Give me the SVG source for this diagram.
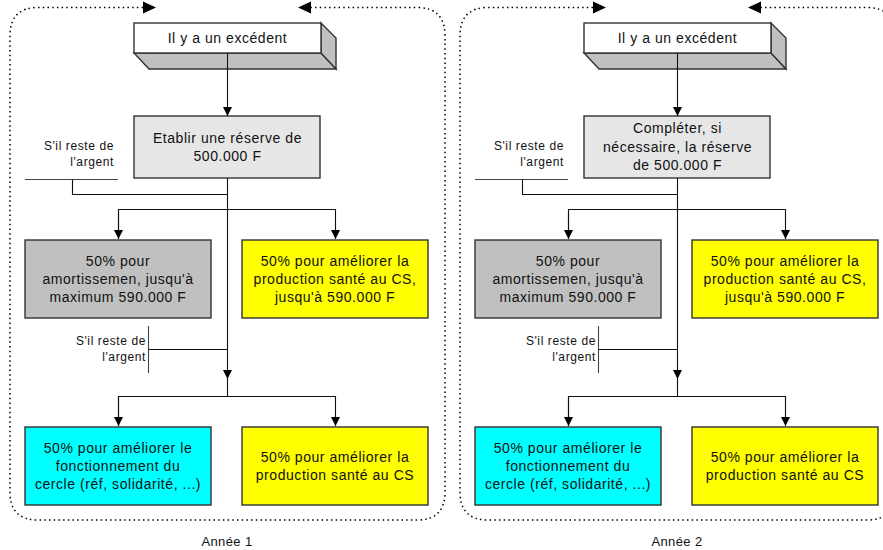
<svg xmlns="http://www.w3.org/2000/svg" width="883" height="550" viewBox="0 0 883 550">
  <style>
    text { font-family: "Liberation Sans", Arial, sans-serif; fill: #111; }
    .t { font-size: 14px; letter-spacing: 0.55px; text-anchor: middle; }
    .s { font-size: 12px; letter-spacing: 0.6px; text-anchor: end; }
    .cap { font-size: 13px; letter-spacing: 0.4px; text-anchor: middle; }
    .box { stroke: #333; stroke-width: 1.4; }
    .front { fill: #ffffff; }
    .side { fill: #c0c0c0; }
    .light { fill: #e6e6e6; }
    .grey { fill: #c0c0c0; }
    .yellow { fill: #ffff00; }
    .cyan { fill: #00ffff; }
    .wire { fill: none; stroke: #111; stroke-width: 1.1; }
    .thin { fill: none; stroke: #444; stroke-width: 1.1; }
    .frame { fill: none; stroke: #000; stroke-width: 1.5; stroke-dasharray: 1.5 3.2; }
    .head { fill: #000; }
  </style>
  <defs>
    <marker id="arrow" markerUnits="userSpaceOnUse" markerWidth="9" markerHeight="9" refX="9" refY="4.5" orient="auto">
      <path d="M0,0 L9,4.5 L0,9 z" fill="#000"/>
    </marker>
  </defs>

  <!-- Year 1 -->
  <g id="year-1">
    <g id="frame-1">
      <path class="frame" d="M143 7.5 L38 7.5 Q10 7.5 10 36 L10 492 Q10 520 38 520 L417 520 Q445 520 445 492 L445 36 Q445 7.5 417 7.5 L311 7.5"/>
      <polygon class="head" points="156,7.5 143,1.5 143,13.5"/>
      <polygon class="head" points="298,7.5 311,1.5 311,13.5"/>
    </g>

    <g id="y1-excedent">
      <polygon class="box side" points="134,53 321,53 336,69 149,69"/>
      <polygon class="box side" points="321,23 336,38 336,69 321,53"/>
      <rect class="box front" x="134" y="23" width="187" height="30"/>
      <text class="t" x="227.5" y="43">Il y a un excédent</text>
    </g>

    <g id="y1-reserve">
      <rect class="box light" x="134" y="116" width="186" height="62"/>
      <text class="t" x="227.5" y="143">Etablir une réserve de</text>
      <text class="t" x="227.5" y="161">500.000 F</text>
    </g>

    <g id="y1-note-a">
      <text class="s" x="114" y="150">S'il reste de</text>
      <text class="s" x="114" y="166">l'argent</text>
    </g>

    <g id="y1-amortissement">
      <rect class="box grey" x="25" y="240" width="186" height="78"/>
      <text class="t" x="118" y="266">50% pour</text>
      <text class="t" x="118" y="284">amortissemen, jusqu'à</text>
      <text class="t" x="118" y="302">maximum 590.000 F</text>
    </g>

    <g id="y1-production-a">
      <rect class="box yellow" x="242" y="240" width="186" height="78"/>
      <text class="t" x="335" y="266">50% pour améliorer la</text>
      <text class="t" x="335" y="284">production santé au CS,</text>
      <text class="t" x="335" y="302">jusqu'à 590.000 F</text>
    </g>

    <g id="y1-note-b">
      <text class="s" x="146" y="344.5">S'il reste de</text>
      <text class="s" x="146" y="361">l'argent</text>
    </g>

    <g id="y1-cercle">
      <rect class="box cyan" x="25" y="427" width="186" height="78"/>
      <text class="t" x="118" y="453">50% pour améliorer le</text>
      <text class="t" x="118" y="471">fonctionnement du</text>
      <text class="t" x="118" y="489">cercle (réf, solidarité, ...)</text>
    </g>

    <g id="y1-production-b">
      <rect class="box yellow" x="242" y="427" width="186" height="78"/>
      <text class="t" x="335" y="462">50% pour améliorer la</text>
      <text class="t" x="335" y="480">production santé au CS</text>
    </g>

    <g id="y1-connectors">
      <path class="wire" d="M227.5 53 L227.5 116" marker-end="url(#arrow)"/>
      <path class="wire" d="M227.5 178 L227.5 379" marker-end="url(#arrow)"/>
      <path class="thin" d="M25 179.5 L118 179.5"/>
      <path class="wire" d="M72.5 179.5 L72.5 194.5 L227.5 194.5"/>
      <path class="wire" d="M118.5 239 L118.5 209.5 L335.5 209.5 L335.5 239" marker-end="url(#arrow)"/>
      <path class="wire" d="M118.5 209.5 L118.5 239" marker-end="url(#arrow)"/>
      <path class="thin" d="M148.5 326 L148.5 373"/>
      <path class="wire" d="M148.5 349.5 L227.5 349.5"/>
      <path class="wire" d="M227.5 379 L227.5 396.5"/>
      <path class="wire" d="M118.5 426 L118.5 396.5 L335.5 396.5 L335.5 426" marker-end="url(#arrow)"/>
      <path class="wire" d="M118.5 396.5 L118.5 426" marker-end="url(#arrow)"/>
    </g>

    <text class="cap" x="227" y="546">Année 1</text>
  </g>

  <!-- Year 2 -->
  <g id="year-2" transform="translate(450,0)">
    <g id="frame-2">
      <path class="frame" d="M143 7.5 L38 7.5 Q10 7.5 10 36 L10 492 Q10 520 38 520 L417 520 Q445 520 445 492 L445 36 Q445 7.5 417 7.5 L311 7.5"/>
      <polygon class="head" points="156,7.5 143,1.5 143,13.5"/>
      <polygon class="head" points="298,7.5 311,1.5 311,13.5"/>
    </g>

    <g id="y2-excedent">
      <polygon class="box side" points="134,53 321,53 336,69 149,69"/>
      <polygon class="box side" points="321,23 336,38 336,69 321,53"/>
      <rect class="box front" x="134" y="23" width="187" height="30"/>
      <text class="t" x="227.5" y="43">Il y a un excédent</text>
    </g>

    <g id="y2-reserve">
      <rect class="box light" x="134" y="116" width="186" height="62"/>
      <text class="t" x="227.5" y="133">Compléter, si</text>
      <text class="t" x="227.5" y="151.5">nécessaire, la réserve</text>
      <text class="t" x="227.5" y="170">de 500.000 F</text>
    </g>

    <g id="y2-note-a">
      <text class="s" x="114" y="150">S'il reste de</text>
      <text class="s" x="114" y="166">l'argent</text>
    </g>

    <g id="y2-amortissement">
      <rect class="box grey" x="25" y="240" width="186" height="78"/>
      <text class="t" x="118" y="266">50% pour</text>
      <text class="t" x="118" y="284">amortissemen, jusqu'à</text>
      <text class="t" x="118" y="302">maximum 590.000 F</text>
    </g>

    <g id="y2-production-a">
      <rect class="box yellow" x="242" y="240" width="186" height="78"/>
      <text class="t" x="335" y="266">50% pour améliorer la</text>
      <text class="t" x="335" y="284">production santé au CS,</text>
      <text class="t" x="335" y="302">jusqu'à 590.000 F</text>
    </g>

    <g id="y2-note-b">
      <text class="s" x="146" y="344.5">S'il reste de</text>
      <text class="s" x="146" y="361">l'argent</text>
    </g>

    <g id="y2-cercle">
      <rect class="box cyan" x="25" y="427" width="186" height="78"/>
      <text class="t" x="118" y="453">50% pour améliorer le</text>
      <text class="t" x="118" y="471">fonctionnement du</text>
      <text class="t" x="118" y="489">cercle (réf, solidarité, ...)</text>
    </g>

    <g id="y2-production-b">
      <rect class="box yellow" x="242" y="427" width="186" height="78"/>
      <text class="t" x="335" y="462">50% pour améliorer la</text>
      <text class="t" x="335" y="480">production santé au CS</text>
    </g>

    <g id="y2-connectors">
      <path class="wire" d="M227.5 53 L227.5 116" marker-end="url(#arrow)"/>
      <path class="wire" d="M227.5 178 L227.5 379" marker-end="url(#arrow)"/>
      <path class="thin" d="M25 179.5 L118 179.5"/>
      <path class="wire" d="M72.5 179.5 L72.5 194.5 L227.5 194.5"/>
      <path class="wire" d="M118.5 239 L118.5 209.5 L335.5 209.5 L335.5 239" marker-end="url(#arrow)"/>
      <path class="wire" d="M118.5 209.5 L118.5 239" marker-end="url(#arrow)"/>
      <path class="thin" d="M148.5 326 L148.5 373"/>
      <path class="wire" d="M148.5 349.5 L227.5 349.5"/>
      <path class="wire" d="M227.5 379 L227.5 396.5"/>
      <path class="wire" d="M118.5 426 L118.5 396.5 L335.5 396.5 L335.5 426" marker-end="url(#arrow)"/>
      <path class="wire" d="M118.5 396.5 L118.5 426" marker-end="url(#arrow)"/>
    </g>

    <text class="cap" x="227" y="546">Année 2</text>
  </g>
</svg>
